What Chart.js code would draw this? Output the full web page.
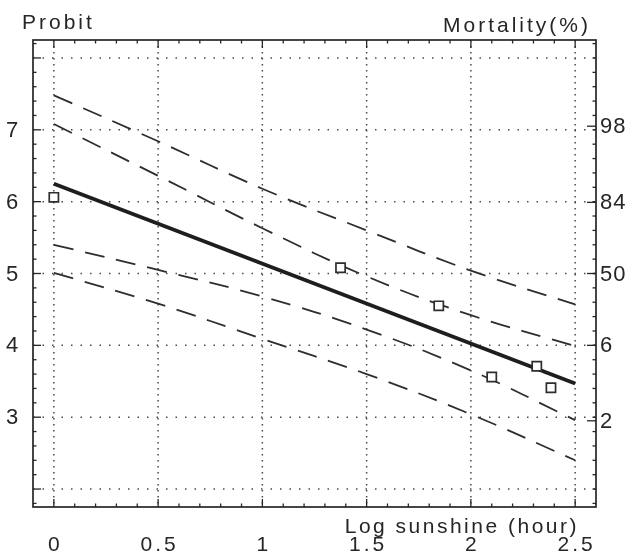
<!DOCTYPE html>
<html>
<head>
<meta charset="utf-8">
<script src="https://cdn.jsdelivr.net/npm/chart.js@4.4.1/dist/chart.umd.min.js"></script>
<style>
  html, body { margin: 0; padding: 0; background: #fff; }
</style>
</head>
<body>
<canvas id="probitChart" width="636" height="556"></canvas>
<script>
// values
const sunshine = [0, 0.5, 1, 1.5, 2, 2.5];
const upperPred = [7.48, 6.84, 6.18, 5.60, 5.04, 4.57];
const upperConf = [7.08, 6.36, 5.63, 4.96, 4.42, 3.99];
const lowerConf = [5.40, 5.05, 4.68, 4.22, 3.65, 2.96];
const lowerPred = [5.01, 4.58, 4.09, 3.60, 3.04, 2.40];

const fitX = [0, 2.5];
const fitY = [6.25, 3.47];

const obsX = [0, 1.375, 1.846, 2.10, 2.316, 2.384];
const obsY = [6.06, 5.08, 4.55, 3.56, 3.71, 3.41];

const xTicks = [0, 0.5, 1, 1.5, 2, 2.5];
const xTickLabels = ['0', '0.5', '1', '1.5', '2', '2.5'];
const yTicks = [3, 4, 5, 6, 7];
const yTickLabels = ['3', '4', '5', '6', '7'];
const yGrid = [2, 3, 4, 5, 6, 7, 8];
const mortalityLabels = ['98', '84', '50', '6', '2'];
const mortalityProbit = [7.05, 5.99, 5.0, 4.0, 2.95];

const ink = '#262626';
const font = 'Liberation Sans, Arial, sans-serif';

function pts(xs, ys) {
    return xs.map((v, i) => ({ x: v, y: ys[i] }));
}

function seg(ctx, x1, y1, x2, y2) {
    ctx.beginPath();
    ctx.moveTo(x1, y1);
    ctx.lineTo(x2, y2);
    ctx.stroke();
}

const framePlugin = {
    id: 'frame',
    beforeDatasetsDraw(chart) {
        const { ctx, chartArea: a, scales: { x, y } } = chart;
        ctx.save();
        ctx.strokeStyle = '#4a4a4a';
        ctx.lineWidth = 1.5;
        // dotted grid
        ctx.setLineDash([1.5, 4.5]);
        xTicks.forEach(v => {
            const px = x.getPixelForValue(v);
            seg(ctx, px, a.top, px, a.bottom);
        });
        ctx.setLineDash([1.5, 8]);
        yGrid.forEach(v => {
            const py = y.getPixelForValue(v);
            seg(ctx, a.left, py, a.right, py);
        });
        ctx.restore();
    },
    afterDatasetsDraw(chart) {
        const { ctx, chartArea: a, scales: { x, y } } = chart;
        ctx.save();
        ctx.strokeStyle = ink;
        ctx.lineWidth = 1.7;
        ctx.strokeRect(a.left, a.top, a.right - a.left, a.bottom - a.top);

        // ticks on top and bottom (inside)
        ctx.lineWidth = 1.3;
        for (let i = 0; i <= 25; i++) {
            const px = x.getPixelForValue(i / 10);
            const len = i % 5 === 0 ? 8 : 3.5;
            seg(ctx, px, a.bottom, px, a.bottom - len);
            seg(ctx, px, a.top, px, a.top + len);
        }
        // ticks on left and right
        for (let i = 9; i <= 41; i++) {
            const py = y.getPixelForValue(i / 5);
            const major = i % 5 === 0;
            seg(ctx, a.left, py, a.left + (major ? 8 : 3.5), py);
            seg(ctx, a.right, py, a.right - 3.5, py);
        }
        mortalityProbit.forEach(v => {
            const py = y.getPixelForValue(v);
            seg(ctx, a.right, py, a.right - 9, py);
        });

        // labels
        ctx.fillStyle = ink;
        ctx.letterSpacing = '3px';
        ctx.font = '21px ' + font;
        ctx.textAlign = 'center';
        ctx.textBaseline = 'alphabetic';
        xTicks.forEach((v, i) => {
            ctx.fillText(xTickLabels[i], x.getPixelForValue(v) + 1.5, 551);
        });

        ctx.font = '22px ' + font;
        ctx.textBaseline = 'middle';
        yTicks.forEach((v, i) => {
            ctx.fillText(yTickLabels[i], 13.5, y.getPixelForValue(v) + 1);
        });

        ctx.textAlign = 'left';
        ctx.letterSpacing = '1px';
        mortalityLabels.forEach((t, i) => {
            ctx.fillText(t, 600, y.getPixelForValue(mortalityProbit[i]) + 1);
        });

        ctx.textBaseline = 'alphabetic';
        ctx.letterSpacing = '3px';
        ctx.font = '21px ' + font;
        ctx.fillText('Probit', 22, 29);
        ctx.textAlign = 'right';
        ctx.letterSpacing = '3px';
        ctx.fillText('Mortality(%)', 591, 32);
        ctx.letterSpacing = '2.5px';
        ctx.fillText('Log sunshine (hour)', 579, 533);
        ctx.restore();
    }
};

const bandStyle = {
    showLine: true,
    borderColor: '#2e2e2e',
    borderWidth: 1.8,
    borderDash: [20, 12],
    pointRadius: 0,
    tension: 0.4,
    fill: false
};

new Chart(document.getElementById('probitChart'), {
    type: 'scatter',
    data: {
        datasets: [
            {
                label: 'Observed',
                data: pts(obsX, obsY),
                pointStyle: 'rect',
                pointRadius: 6.5,
                pointBorderWidth: 1.7,
                borderColor: '#2e2e2e',
                backgroundColor: '#fff'
            },
            {
                label: 'Fitted',
                data: pts(fitX, fitY),
                showLine: true,
                borderColor: '#1e1e1e',
                borderWidth: 3.8,
                pointRadius: 0
            },
            Object.assign({ label: 'Upper prediction', data: pts(sunshine, upperPred) }, bandStyle),
            Object.assign({ label: 'Upper confidence', data: pts(sunshine, upperConf) }, bandStyle),
            Object.assign({ label: 'Lower confidence', data: pts(sunshine, lowerConf) }, bandStyle),
            Object.assign({ label: 'Lower prediction', data: pts(sunshine, lowerPred) }, bandStyle)
        ]
    },
    options: {
        responsive: false,
        animation: false,
        devicePixelRatio: 1,
        layout: { padding: { left: 33, right: 40, top: 40, bottom: 49 } },
        scales: {
            x: { type: 'linear', min: -0.1, max: 2.6, display: false },
            y: { type: 'linear', min: 1.75, max: 8.25, display: false }
        },
        plugins: {
            legend: { display: false },
            tooltip: { enabled: false }
        }
    },
    plugins: [framePlugin]
});
</script>
</body>
</html>
